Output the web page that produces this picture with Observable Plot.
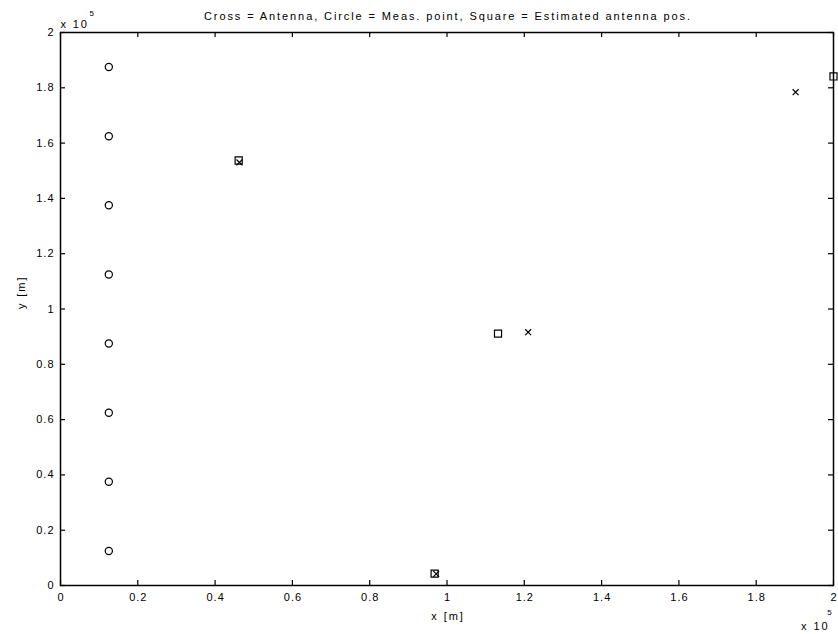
<!DOCTYPE html>
<html>
<head>
<meta charset="utf-8">
<script src="https://cdn.jsdelivr.net/npm/d3@7"></script>
<script src="https://cdn.jsdelivr.net/npm/@observablehq/plot@0.6"></script>
<style>
  html, body { margin: 0; padding: 0; background: #fff; }
  #chart { width: 838px; height: 634px; }
  #chart svg text { letter-spacing: 1.9px; }
  #chart svg g[aria-label="title"] text { letter-spacing: 2.2px; }
  #chart svg g[aria-label="x-axis tick label"] text,
  #chart svg g[aria-label="y-axis tick label"] text { letter-spacing: 1px; }
</style>
</head>
<body>
<div id="chart"></div>
<script>
// Measurement points (circles), metres
const measX = [12500, 12500, 12500, 12500, 12500, 12500, 12500, 12500];
const measY = [187500, 162500, 137500, 112500, 87500, 62500, 37500, 12500];

// Antenna positions (crosses), metres
const antX = [46300, 97200, 121000, 190200];
const antY = [153000, 4200, 91600, 178400];

// Estimated antenna positions (squares), metres
const estX = [46100, 96800, 113200, 200000];
const estY = [153700, 4300, 91100, 184100];

const xTicks = [0, 20000, 40000, 60000, 80000, 100000, 120000, 140000, 160000, 180000, 200000];
const yTicks = [0, 20000, 40000, 60000, 80000, 100000, 120000, 140000, 160000, 180000, 200000];

const titleText = "Cross = Antenna, Circle = Meas. point, Square = Estimated antenna pos.";
const xLabel = "x [m]";
const yLabel = "y [m]";

const W = 838, H = 634, mL = 60, mR = 5, mT = 32, mB = 49;
const innerW = W - mL - mR, innerH = H - mT - mB;
const fmt = d => String(+(d / 1e5).toFixed(1));

const meas = measX.map((x, i) => ({x, y: measY[i]}));
const ant = antX.map((x, i) => ({x, y: antY[i]}));
const est = estX.map((x, i) => ({x, y: estY[i]}));

const plot = Plot.plot({
  width: W, height: H,
  marginLeft: mL, marginRight: mR, marginTop: mT, marginBottom: mB,
  style: {fontFamily: "'Liberation Sans', Arial, sans-serif", fontSize: "11px", color: "black", background: "white"},
  x: {domain: [0, 200000]},
  y: {domain: [0, 200000]},
  marks: [
    Plot.axisX({ticks: xTicks, tickSize: 0, tickPadding: 8, tickFormat: fmt, label: null, fill: "black", dx: 0.5}),
    Plot.axisY({ticks: yTicks, tickSize: 0, tickPadding: 6, tickFormat: fmt, label: null, fill: "black"}),
    Plot.tickX(xTicks, {x: d => d, insetTop: innerH - 5, stroke: "black", strokeWidth: 1.2}),
    Plot.tickX(xTicks, {x: d => d, insetBottom: innerH - 5, stroke: "black", strokeWidth: 1.2}),
    Plot.tickY(yTicks, {y: d => d, insetRight: innerW - 5, stroke: "black", strokeWidth: 1.2}),
    Plot.tickY(yTicks, {y: d => d, insetLeft: innerW - 5, stroke: "black", strokeWidth: 1.2}),
    Plot.frame({stroke: "black", strokeWidth: 1.5}),
    Plot.dot(meas, {x: "x", y: "y", symbol: "circle", r: 3.6, stroke: "black", strokeWidth: 1.2, fill: "none"}),
    Plot.dot(est, {x: "x", y: "y", symbol: "square", r: 4.0, stroke: "black", strokeWidth: 1.2, fill: "none"}),
    Plot.dot(ant, {x: "x", y: "y", symbol: "times", r: 2.8, stroke: "black", strokeWidth: 1.2}),
    Plot.text([titleText], {frameAnchor: "top", dy: -20, dx: 1, text: d => d, fill: "black", fontSize: 11, ariaLabel: "title"}),
    Plot.text([xLabel], {frameAnchor: "bottom", dy: 34, dx: 1, text: d => d, fill: "black", fontSize: 11}),
    Plot.text([yLabel], {frameAnchor: "left", dx: -39, rotate: -90, text: d => d, fill: "black", fontSize: 11}),
    Plot.text(["x 10"], {frameAnchor: "top", textAnchor: "start", dx: -innerW / 2, dy: -12, text: d => d, fill: "black", fontSize: 11}),
    Plot.text(["5"], {frameAnchor: "top", textAnchor: "start", dx: -innerW / 2 + 29, dy: -22, text: d => d, fill: "black", fontSize: 8}),
    Plot.text(["x 10"], {frameAnchor: "bottom", textAnchor: "end", dx: innerW / 2 - 4, dy: 44, text: d => d, fill: "black", fontSize: 11}),
    Plot.text(["5"], {frameAnchor: "bottom", textAnchor: "end", dx: innerW / 2, dy: 29, text: d => d, fill: "black", fontSize: 8})
  ]
});
document.getElementById("chart").appendChild(plot);
</script>
</body>
</html>
